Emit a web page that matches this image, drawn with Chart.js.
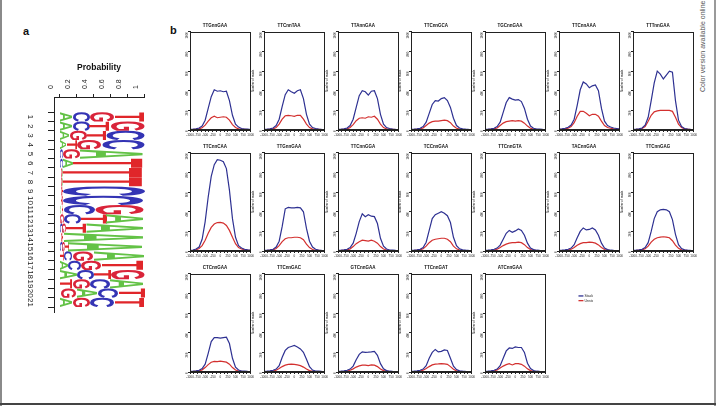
<!DOCTYPE html>
<html><head><meta charset="utf-8">
<script src="https://cdn.jsdelivr.net/npm/chart.js@4.4.1/dist/chart.umd.min.js"></script>
<style>
html,body{margin:0;padding:0;background:#fff}
body{width:725px;height:406px;overflow:hidden;position:relative;font-family:"Liberation Sans",Arial,sans-serif}
canvas{position:absolute}
.plabel{position:absolute;font-weight:bold;font-size:11px;color:#111}
.side{position:absolute;left:699px;top:0;height:92px;writing-mode:vertical-rl;transform:rotate(180deg);font-size:7px;color:#555;white-space:nowrap;text-align:left}
.vline{position:absolute;left:714px;top:0;width:2px;height:406px;background:#9a9a9a}
.lline{position:absolute;left:0;top:0;width:2px;height:406px;background:#8a8a8a}
.bline{position:absolute;left:0;top:403px;width:716px;height:2px;background:#444}
</style></head><body>
<div class="lline"></div><div class="vline"></div><div class="bline"></div>
<div class="plabel" style="left:23px;top:25px">a</div>
<div class="plabel" style="left:170px;top:24px">b</div>
<div class="side">Color version available online</div>
<script>
// ---------- Panel a: sequence logo (probability of each base per position) ----------
const logoPositions = [1,2,3,4,5,6,7,8,9,10,11,12,13,14,15,16,17,18,19,20,21];
const probA = [0.15,0.15,0.12,0.08,0.76,0.12,0.02,0.02,0.01,0.01,0.02,0.45,0.68,0.95,0.90,0.60,0.10,0.20,0.40,0.25,0.15];
const probC = [0.20,0.20,0.45,0.50,0.04,0.04,0.01,0.01,0.97,0.96,0.38,0.20,0.03,0.01,0.03,0.10,0.15,0.20,0.25,0.25,0.30];
const probG = [0.30,0.40,0.20,0.30,0.20,0.00,0.01,0.01,0.01,0.02,0.58,0.05,0.04,0.02,0.03,0.25,0.25,0.40,0.20,0.20,0.20];
const probT = [0.35,0.25,0.23,0.12,0.00,0.84,0.96,0.96,0.01,0.01,0.02,0.30,0.25,0.02,0.04,0.05,0.50,0.20,0.15,0.30,0.35];
const probTicks = [0,0.2,0.4,0.6,0.8,1];

// ---------- Panel b: read profiles around motifs ----------
const readPositions = [-1000,-900,-800,-700,-600,-500,-400,-300,-200,-100,0,100,200,300,400,500,600,700,800,900,1000];
const motifTitles = ['TTGnnGAA','TTCnnTAA','TTAnnGAA','TTCnnGCA','TGCnnGAA','TTCnnAAA','TTTnnGAA',
                     'TTCnnCAA','TTGnnGAA','TTCnnGGA','TCCnnGAA','TTCnnGTA','TACnnGAA','TTCnnGAG',
                     'CTCnnGAA','TTCnnGAC','GTCnnGAA','TTCnnGAT','ATCnnGAA'];
const stackReads = [
 [5,8,12,20,40,100,220,340,410,395,400,390,395,300,150,60,30,15,10,8,5],
 [5,8,12,20,45,110,240,360,410,390,375,400,410,320,160,60,25,15,10,7,5],
 [5,8,12,20,45,110,230,350,400,390,355,395,400,320,160,60,25,15,10,7,5],
 [5,8,12,18,35,80,170,260,300,295,320,330,300,230,120,45,20,12,8,6,5],
 [5,8,12,18,35,80,180,280,330,315,305,310,290,220,110,40,18,10,8,6,5],
 [8,12,18,28,50,110,250,410,490,470,430,450,460,400,220,90,45,30,20,15,10],
 [5,8,12,20,50,130,300,480,600,570,520,560,600,590,300,100,35,15,10,7,5],
 [5,10,20,40,120,300,550,760,880,930,925,910,840,620,330,140,55,30,18,12,8],
 [5,8,12,18,40,100,250,430,445,440,440,445,440,400,230,100,40,18,10,7,5],
 [5,8,12,18,35,80,180,300,380,350,370,355,350,280,130,50,20,10,8,6,5],
 [5,8,12,18,35,90,210,330,370,385,400,385,360,290,140,55,22,12,8,6,5],
 [5,8,12,18,30,60,120,180,210,190,205,225,210,160,80,30,14,8,6,5,5],
 [5,8,12,18,30,65,135,200,235,215,220,235,215,160,80,30,14,8,6,5,5],
 [5,8,12,18,35,85,200,330,400,420,425,420,400,320,170,65,25,12,8,6,5],
 [5,8,12,18,35,80,190,310,350,350,345,350,355,290,140,50,20,10,8,6,5],
 [5,8,12,18,30,65,150,220,250,260,270,255,235,200,130,55,20,10,8,6,5],
 [5,8,12,18,30,60,125,180,205,200,202,205,210,170,85,32,14,8,6,5,5],
 [5,8,12,18,30,65,140,200,230,205,210,225,220,140,60,25,12,8,6,5,5],
 [5,8,12,18,30,65,140,215,245,240,255,250,250,200,90,35,15,8,6,5,5]
];
const unstackReads = [
 [3,5,8,12,22,50,90,125,140,125,130,135,130,100,55,25,12,8,6,4,3],
 [3,5,8,12,25,60,110,145,150,145,140,150,150,110,60,25,12,8,6,4,3],
 [3,5,8,12,25,55,95,120,125,120,135,130,140,110,60,25,12,8,6,4,3],
 [3,5,8,12,20,45,70,85,90,90,95,100,95,75,40,18,10,7,5,4,3],
 [3,5,8,12,20,45,70,85,90,95,90,95,90,70,40,18,10,7,5,4,3],
 [5,8,12,18,35,75,140,190,190,170,145,160,160,140,90,45,25,18,12,10,8],
 [3,6,10,15,35,90,150,185,195,200,200,200,200,190,130,60,25,12,8,5,3],
 [3,6,12,25,55,110,180,240,275,290,292,285,260,210,140,75,35,20,12,8,5],
 [3,5,8,12,25,55,95,125,135,135,140,140,135,115,70,35,15,8,6,4,3],
 [3,5,8,12,20,45,75,95,110,105,100,110,100,80,45,20,10,7,5,4,3],
 [3,5,8,12,22,50,85,110,120,125,130,130,120,95,50,22,10,7,5,4,3],
 [3,5,7,10,18,35,55,70,80,85,85,90,85,65,35,15,8,5,4,3,3],
 [3,5,7,10,18,35,58,75,85,85,90,88,80,62,35,15,8,5,4,3,3],
 [3,5,8,12,22,50,90,120,135,142,145,142,135,105,60,27,12,8,5,4,3],
 [3,5,8,12,22,45,75,100,108,105,110,105,100,80,45,20,10,7,5,4,3],
 [3,5,7,10,18,35,55,70,78,80,78,72,65,50,30,14,8,5,4,3,3],
 [3,5,7,10,18,32,50,62,70,70,65,72,70,55,30,14,8,5,4,3,3],
 [3,5,7,10,18,35,55,72,80,82,85,82,78,55,28,12,7,5,4,3,3],
 [3,5,7,10,20,40,60,75,85,72,85,85,78,60,32,14,7,5,4,3,3]
];
const seriesNames = ['Stack','Unstack'];
const yTicks = [0,200,400,600,800,1000];
const xTickMarks = [-1000,-875,-750,-625,-500,-375,-250,-125,0,125,250,375,500,625,750,875,1000];
const xTickLabels = [-1000,-750,-500,-250,0,250,500,750,1000];

// ---------- styles ----------
const FAMILY = '"Liberation Sans", Arial, sans-serif';
const letterColors = {A:'#63c246', C:'#3434b4', G:'#d9243a', T:'#e0262a'};
const STACK_COLOR = '#2e3192';
const UNSTACK_COLOR = '#d3302f';
const AXIS = '#222';

function place(id, left, top, w, h){
  const c = document.createElement('canvas');
  c.id = id; c.width = w; c.height = h;
  c.style.left = left + 'px'; c.style.top = top + 'px';
  c.style.width = w + 'px'; c.style.height = h + 'px';
  document.body.appendChild(c);
  return c;
}

// ---------- Panel a chart ----------
const letters = ['A','C','G','T'];
const probByLetter = {A:probA, C:probC, G:probG, T:probT};
const rankData = [[],[],[],[]], rankLetters = [[],[],[],[]];
logoPositions.forEach((p,i)=>{
  letters.map(l=>({l, v:probByLetter[l][i]})).sort((a,b)=>a.v-b.v)
    .forEach((o,r)=>{ rankData[r].push({y:p, x:o.v}); rankLetters[r].push(o.l); });
});

const logoPlugin = {
  id:'logoLetters',
  afterDatasetsDraw(chart){
    const ctx = chart.ctx;
    ctx.save();
    ctx.font = 'bold 100px ' + FAMILY;
    chart.data.datasets.forEach((ds, di)=>{
      const meta = chart.getDatasetMeta(di);
      meta.data.forEach((el, i)=>{
        const p = el.getProps(['x','y','base','height'], true);
        const x0 = Math.min(p.x, p.base), x1 = Math.max(p.x, p.base);
        if (x1 - x0 < 0.8) return;
        const y0 = p.y - p.height/2, y1 = p.y + p.height/2;
        const L = ds.letters[i];
        const m = ctx.measureText(L);
        const asc = m.actualBoundingBoxAscent, desc = m.actualBoundingBoxDescent;
        const abl = m.actualBoundingBoxLeft, abr = m.actualBoundingBoxRight;
        const sy = (x1-x0)/(asc+desc), sx = (y1-y0)/(abl+abr);
        ctx.save();
        ctx.translate(x0 + sy*desc, y0 + sx*abl);
        ctx.rotate(Math.PI/2);
        ctx.scale(sx, sy);
        ctx.fillStyle = letterColors[L];
        ctx.fillText(L, 0, 0);
        ctx.restore();
      });
    });
    ctx.restore();
  }
};

const logoCanvas = place('logo', 0, 55, 175, 275);
new Chart(logoCanvas, {
  type:'bar',
  data:{
    datasets: rankData.map((d,r)=>({
      label:'rank'+r, data:d, letters:rankLetters[r],
      backgroundColor:'rgba(0,0,0,0)', borderWidth:0,
      barPercentage:1, categoryPercentage:1, stack:'s'
    }))
  },
  options:{
    indexAxis:'y', responsive:false, animation:false, events:[],
    layout:{padding:{left:0,right:31,top:0,bottom:12}},
    plugins:{legend:{display:false}, tooltip:{enabled:false}},
    scales:{
      x:{
        type:'linear', position:'top', stacked:true, min:-0.07, max:1,
        afterBuildTicks:s=>{ s.ticks = probTicks.map(v=>({value:v})); },
        afterFit:s=>{ s.height = 42; },
        ticks:{callback:v=>String(v), minRotation:90, maxRotation:90, autoSkip:false,
               font:{size:7, family:FAMILY}, color:AXIS, padding:5},
        grid:{drawOnChartArea:false, tickLength:3, color:AXIS},
        border:{color:AXIS},
        title:{display:true, text:'Probability', font:{size:8.5, weight:'bold', family:FAMILY}, color:'#111', padding:{top:8,bottom:0}}
      },
      y:{
        type:'linear', stacked:true, reverse:true, min:-0.6, max:21.5,
        afterBuildTicks:s=>{ s.ticks = logoPositions.map(v=>({value:v})); },
        afterFit:s=>{ s.width = 54; },
        ticks:{callback:v=>String(v), minRotation:-90, maxRotation:-90, crossAlign:'center', autoSkip:false,
               font:{size:8, family:FAMILY}, color:AXIS, padding:13},
        grid:{drawOnChartArea:false, tickLength:6, color:AXIS},
        border:{color:AXIS}
      }
    }
  },
  plugins:[logoPlugin]
});

// ---------- Panel b charts ----------
const framePlugin = {
  id:'frame',
  afterDraw(chart){
    const {left,top,right,bottom} = chart.chartArea;
    const ctx = chart.ctx;
    ctx.save(); ctx.strokeStyle = AXIS; ctx.lineWidth = 1;
    ctx.strokeRect(Math.round(left)+0.5, Math.round(top)+0.5, Math.round(right-left)-1, Math.round(bottom-top)-1);
    ctx.restore();
  }
};

const colLeft = c => Math.round(190 + 73.8*c);
const rowTop = [32,153,274];
const FRAME_W = 63, FRAME_H = 98;

motifTitles.forEach((title, k)=>{
  const r = Math.floor(k/7), c = k%7;
  const L = colLeft(c), T = rowTop[r];
  const cv = place('m'+k, L-13, T-12, 13+FRAME_W+2, 12+FRAME_H+10);
  new Chart(cv, {
    type:'line',
    data:{
      datasets:[
        {label:seriesNames[0], data:readPositions.map((x,i)=>({x, y:stackReads[k][i]})),
         borderColor:STACK_COLOR, borderWidth:1.2, pointRadius:0, tension:0},
        {label:seriesNames[1], data:readPositions.map((x,i)=>({x, y:unstackReads[k][i]})),
         borderColor:UNSTACK_COLOR, borderWidth:1.2, pointRadius:0, tension:0}
      ]
    },
    options:{
      responsive:false, animation:false, events:[],
      layout:{padding:{left:0,right:2,top:0,bottom:0}},
      plugins:{
        legend:{display:false}, tooltip:{enabled:false},
        title:{display:true, text:title, color:'#111', font:{size:4.5, weight:'bold', family:FAMILY}, padding:{top:3.5,bottom:3}}
      },
      scales:{
        x:{
          type:'linear', min:-1000, max:1000,
          afterBuildTicks:s=>{ s.ticks = xTickMarks.map(v=>({value:v})); },
          afterFit:s=>{ s.height = 10; },
          ticks:{callback:v=> xTickLabels.includes(v) ? String(v) : '', autoSkip:false,
                 minRotation:0, maxRotation:0, font:{size:3, family:FAMILY}, color:AXIS, padding:1},
          grid:{drawOnChartArea:false, tickLength:2, color:AXIS},
          border:{color:AXIS}
        },
        y:{
          min:0, max:1000,
          afterBuildTicks:s=>{ s.ticks = yTicks.map(v=>({value:v})); },
          afterFit:s=>{ s.width = 13; },
          ticks:{callback:v=>String(v), minRotation:90, maxRotation:90, autoSkip:false,
                 font:{size:3, family:FAMILY}, color:AXIS, padding:1},
          grid:{drawOnChartArea:false, tickLength:2, color:AXIS},
          border:{color:AXIS},
          title:{display:c!==0, text:'Number of reads', font:{size:3, family:FAMILY}, color:AXIS, padding:0}
        }
      }
    },
    plugins:[framePlugin]
  });
});

// ---------- legend ----------
const legCanvas = place('legend', 578, 293, 30, 14);
new Chart(legCanvas, {
  type:'line',
  data:{datasets:[
    {label:seriesNames[0], data:[], borderColor:STACK_COLOR, backgroundColor:STACK_COLOR, borderWidth:1.3},
    {label:seriesNames[1], data:[], borderColor:UNSTACK_COLOR, backgroundColor:UNSTACK_COLOR, borderWidth:1.3}
  ]},
  options:{
    responsive:false, animation:false, events:[],
    layout:{padding:0},
    scales:{x:{display:false}, y:{display:false}},
    plugins:{
      tooltip:{enabled:false},
      legend:{display:true, position:'left', align:'start',
        labels:{usePointStyle:true, pointStyle:'line', boxWidth:7, boxHeight:4, padding:1.2,
                font:{size:3.5, family:FAMILY}, color:'#222'}}
    }
  }
});
</script>
</body></html>
